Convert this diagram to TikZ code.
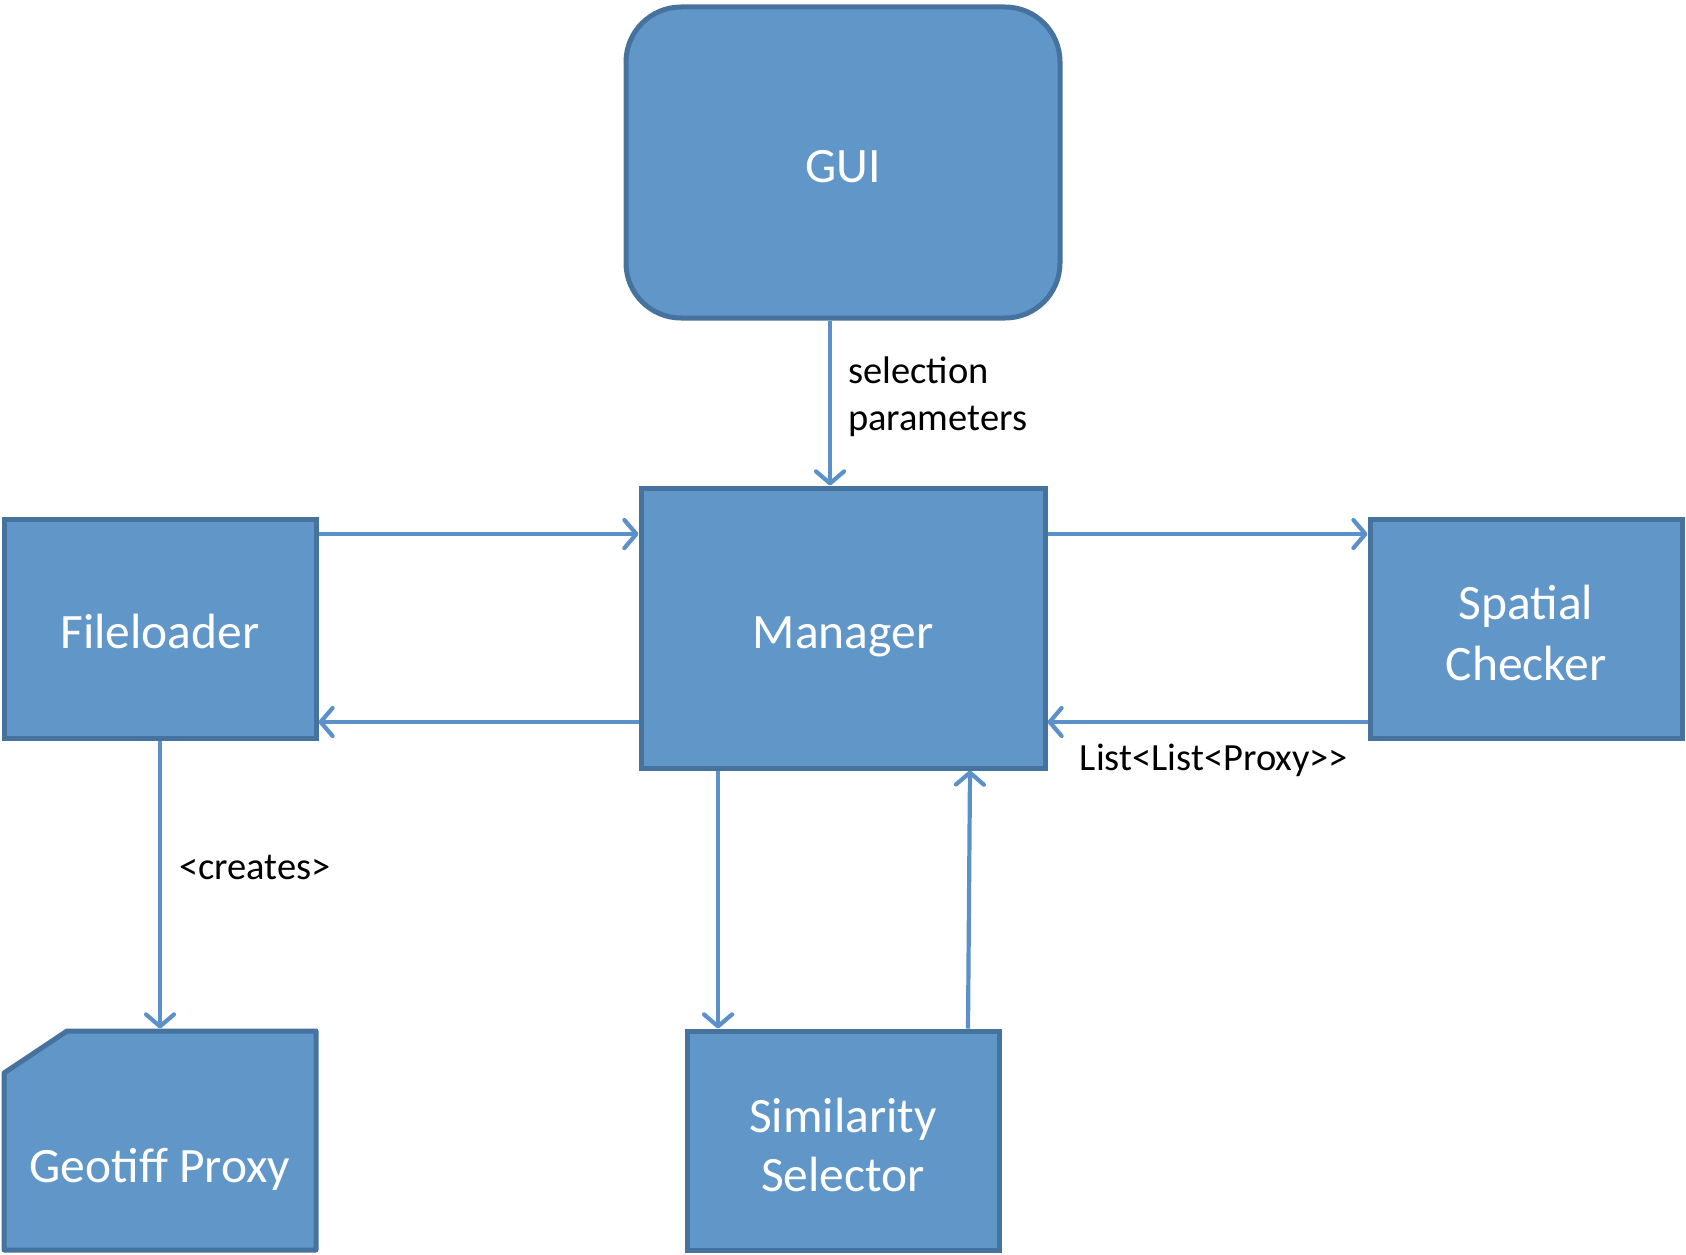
\documentclass[tikz,border=0pt]{standalone}
\usepackage{fontspec}
\setmainfont{Carlito}
\usetikzlibrary{arrows.meta}
\definecolor{boxfill}{RGB}{97,150,200}
\definecolor{boxline}{RGB}{70,114,158}
\definecolor{arrcol}{RGB}{91,145,200}
\newcommand{\lowtext}[2]{\raisebox{-#1pt}[0pt][0pt]{#2}}
\newcommand{\twolines}[4]{\raisebox{#1pt}[0pt][0pt]{\fontsize{49.5}{#2}\selectfont\begin{tabular}[t]{@{}c@{}}#3\\#4\end{tabular}}}
\tikzset{
  blk/.style={draw=boxline, fill=boxfill, line width=5pt, text=white,
    font=\fontsize{49.5}{59}\selectfont, inner sep=0pt},
  blkshape/.style={draw=boxline, fill=boxfill, line width=5pt, line join=round},
  arr/.style={draw=arrcol, line width=4.2pt,
    -{Straight Barb[length=12pt,width=28pt,line width=4.2pt,round]}},
  lbl/.style={text=black, font=\fontsize{38.5}{47}\selectfont, inner sep=0pt}
}
\begin{document}
\begin{tikzpicture}[x=1pt,y=-1pt]
\useasboundingbox[fill=white] (0,0) rectangle (1686,1255);
% nodes
\node[blk, rounded corners=55pt, minimum width=434pt, minimum height=311pt] (gui) at (843,162.5) {\lowtext{19.5}{GUI}};
\node[blk, minimum width=404pt, minimum height=280pt] (man) at (843,628) {\lowtext{20}{Manager}};
\node[blk, minimum width=312pt, minimum height=219pt] (fl) at (160,628.5) {\lowtext{19.5}{Fileloader}};
\node[blk, minimum width=312pt, minimum height=219pt] (sp) at (1526,628.5) {\twolines{9.5}{61}{Spatial}{Checker}};
\node[blk, minimum width=312pt, minimum height=219pt] (sim) at (843,1140.5) {\twolines{8.5}{59}{Similarity}{Selector}};
\node[minimum width=312pt, minimum height=219pt, inner sep=0pt, outer sep=2.5pt] (geo) at (160,1140.5) {};
\path[blkshape] ([xshift=2.5pt,yshift=-44.5pt]geo.north west) -- ([xshift=65.5pt,yshift=-2.5pt]geo.north west) -- ([xshift=-2.5pt,yshift=-2.5pt]geo.north east) -- ([xshift=-2.5pt,yshift=2.5pt]geo.south east) -- ([xshift=2.5pt,yshift=2.5pt]geo.south west) -- cycle;
\node[text=white, font=\fontsize{49.5}{59}\selectfont, inner sep=0pt] (geotxt) at (geo.center) {\lowtext{41.5}{Geotiff Proxy}};
% labels
\node[lbl, anchor=base west] (selp) at (848,383) {\begin{tabular}[t]{@{}l@{}}selection\\parameters\end{tabular}};
\node[lbl, anchor=base] (lpl) at (1214,770) {List<List<Proxy>{}>};
\node[lbl, anchor=base] (crt) at (255,879) {<creates>};
% connectors
\draw[arr] ([xshift=-13pt]gui.south) -- ([xshift=-13pt]man.north);
\draw[arr] ([yshift=-17.5pt]fl.north east) -- ([yshift=-48.5pt]man.north west);
\draw[arr] ([yshift=48.5pt]man.south west) -- ([yshift=18.5pt]fl.south east);
\draw[arr] ([yshift=-48.5pt]man.north east) -- ([yshift=-17.5pt]sp.north west);
\draw[arr] ([yshift=18.5pt]sp.south west) -- ([yshift=48.5pt]man.south east);
\draw[arr] (fl.south) -- (geo.north);
\draw[arr] ([xshift=79.5pt]man.south west) -- ([xshift=33.5pt]sim.north west);
\draw[arr] ([xshift=-33.5pt]sim.north east) -- ([xshift=-77.5pt]man.south east);
\end{tikzpicture}
\end{document}
